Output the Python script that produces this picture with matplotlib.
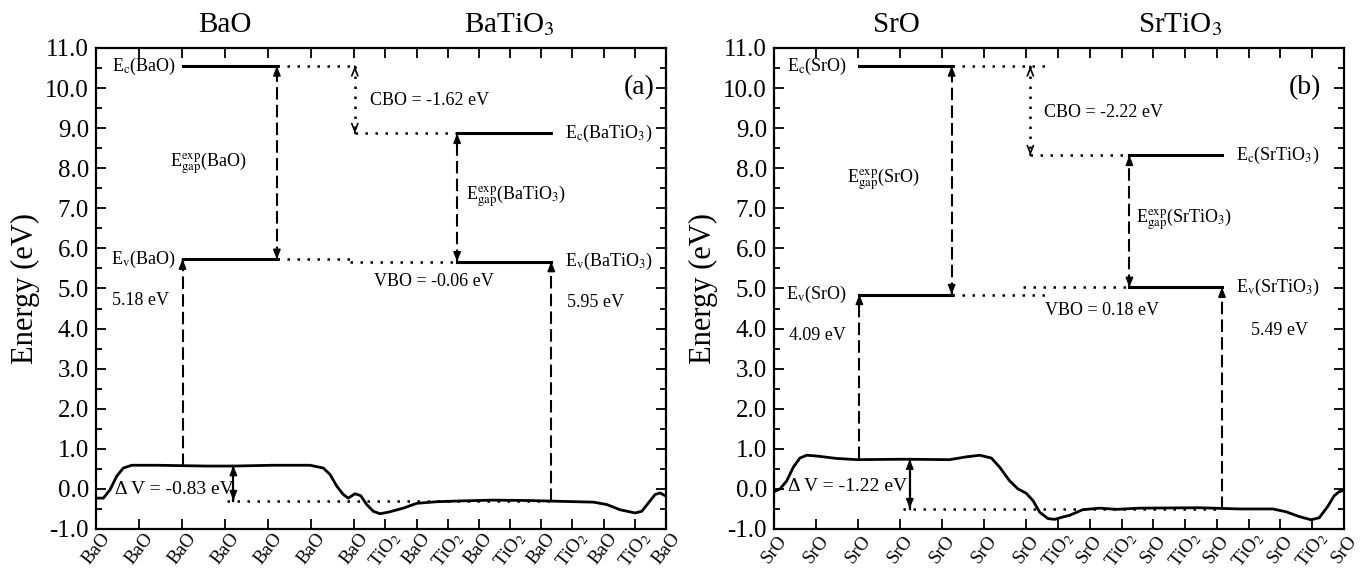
import numpy as np
import matplotlib.pyplot as plt
from matplotlib.ticker import MultipleLocator, FormatStrFormatter

plt.rcParams['font.family'] = 'Liberation Serif'
plt.rcParams['mathtext.fontset'] = 'stix'
plt.rcParams['axes.unicode_minus'] = False

# ---- layer sequence along the superlattice (x axis) ----
layers_a = ['BaO'] * 7 + ['TiO$_2$', 'BaO'] * 5
layers_b = ['SrO'] * 7 + ['TiO$_2$', 'SrO'] * 5
# interlayer spacing (A): rock-salt part, perovskite part
spacing_a = (2.76, 2.00)
spacing_b = (2.58, 1.95)

# ---- macroscopic averaged potential ----
pot_a_x = [0.0, 0.47, 0.90, 1.33, 1.75, 2.29, 3.89, 7.10, 8.81, 11.37, 13.73, 14.58,
           15.01, 15.44, 15.86, 16.18, 16.61, 16.98, 17.36, 17.79, 18.22, 18.75, 19.71,
           20.57, 21.85, 23.35, 25.48, 27.84, 29.76, 31.90, 32.76, 33.61, 34.57, 35.00,
           35.43, 35.86, 36.18, 36.56]
pot_a_y = [-0.23, -0.23, -0.02, 0.32, 0.52, 0.59, 0.59, 0.57, 0.57, 0.59, 0.59, 0.52,
           0.36, 0.07, -0.14, -0.23, -0.12, -0.17, -0.39, -0.56, -0.62, -0.58, -0.48,
           -0.36, -0.32, -0.30, -0.28, -0.29, -0.31, -0.33, -0.39, -0.52, -0.60, -0.56,
           -0.35, -0.14, -0.10, -0.18]

pot_b_x = [0.0, 0.37, 0.78, 1.18, 1.59, 2.00, 2.62, 3.84, 5.07, 7.92, 10.78, 11.81,
           12.62, 13.34, 13.85, 14.46, 14.97, 15.48, 15.89, 16.30, 16.81, 17.22, 17.73,
           18.14, 18.93, 19.98, 21.02, 22.43, 26.10, 28.55, 30.60, 31.42, 32.23, 32.95,
           33.46, 33.96, 34.38, 34.68, 34.98]
pot_b_y = [-0.07, 0.00, 0.20, 0.54, 0.77, 0.84, 0.82, 0.76, 0.73, 0.74, 0.73, 0.80,
           0.84, 0.77, 0.54, 0.20, 0.00, -0.11, -0.29, -0.58, -0.74, -0.76, -0.70,
           -0.66, -0.52, -0.48, -0.51, -0.48, -0.47, -0.50, -0.50, -0.57, -0.69, -0.77,
           -0.72, -0.45, -0.17, -0.07, -0.04]

# ---- band edges (eV): [oxide, perovskite] ----
ec_a = [10.55, 8.87]
ev_a = [5.73, 5.67]
ec_b = [10.55, 8.32]
ev_b = [4.85, 5.03]
# averaged potential plateaus used for the lineup
vbar_a = [0.58, -0.29]
vbar_b = [0.74, -0.49]

# ---- text ----
names_a = ['BaO', 'BaTiO$_3$']
names_b = ['SrO', 'SrTiO$_3$']
cbo_a, vbo_a, dv_a = '-1.62', '-0.06', '-0.83'
cbo_b, vbo_b, dv_b = '-2.22', '0.18', '-1.22'
evbar_a = ['5.18 eV', '5.95 eV']
evbar_b = ['4.09 eV', '5.49 eV']


def layer_pos(labels, d_rs, d_p, n_rs=7):
    pos = [i * d_rs for i in range(n_rs)]
    for k in range(1, len(labels) - n_rs + 1):
        pos.append((n_rs - 1) * d_rs + k * d_p)
    return pos


DASH = dict(lw=1.5, ls=(0, (6, 2.5)))
DOT = dict(lw=1.8, ls=(0, (1, 3)))


def varrow(ax, x, y_from, y_to, style, both=False, head='-|>'):
    ax.plot([x, x], [y_from, y_to], color='k', **style)
    ends = [(y_to, y_from)] + ([(y_from, y_to)] if both else [])
    for tip, tail in ends:
        d = 0.02 * np.sign(tip - tail)
        ax.annotate('', xy=(x, tip), xytext=(x, tip - d),
                    arrowprops=dict(arrowstyle=f'{head},head_length=0.55,head_width=0.22',
                                    color='k', lw=1.2, shrinkA=0, shrinkB=0))


def hdot(ax, x0, x1, y):
    ax.plot([x0, x1], [y, y], color='k', **DOT)


def draw_panel(ax, layers, spacing, px, py, ec, ev, vbar, names, cbo, vbo, dv, evbar,
               xs, tag):
    pos = layer_pos(layers, *spacing)
    ax.plot(px, py, color='k', lw=2.0, solid_joinstyle='round')

    x_ev1, x_gap1, x_cbo = xs['ev1'], xs['gap1'], xs['cbo']
    x_gap2, x_ev2, x_dv = xs['gap2'], xs['ev2'], xs['dv']

    # band edges
    ax.plot([x_ev1, x_gap1], [ec[0], ec[0]], color='k', lw=2.2)
    ax.plot([x_ev1, x_gap1], [ev[0], ev[0]], color='k', lw=2.2)
    ax.plot([x_gap2, x_ev2], [ec[1], ec[1]], color='k', lw=2.2)
    ax.plot([x_gap2, x_ev2], [ev[1], ev[1]], color='k', lw=2.2)

    # band offsets
    hdot(ax, x_gap1, xs['ec_dot_end'], ec[0])
    hdot(ax, x_cbo, x_gap2, ec[1])
    hdot(ax, x_gap1, xs['ev_dot_end'], ev[0])
    hdot(ax, xs['ev_dot_start'], x_gap2, ev[1])
    varrow(ax, x_cbo, ec[0], ec[1], DOT, both=True, head='->')

    # gaps
    varrow(ax, x_gap1, ev[0], ec[0], DASH, both=True)
    varrow(ax, x_gap2, ev[1], ec[1], DASH, both=True)

    # Ev - Vbar
    varrow(ax, x_ev1, vbar[0], ev[0], DASH)
    varrow(ax, x_ev2, vbar[1], ev[1], DASH)

    # Delta V
    hdot(ax, xs['dv_dot_start'], x_ev2, vbar[1])
    varrow(ax, x_dv, vbar[1], vbar[0], dict(lw=1.6, ls='-'), both=True)

    pv = names[1]
    fs = 13
    ax.text(xs['lab_l'], ec[0], f'E$_\\mathrm{{c}}$({names[0]})', ha='right', va='center', fontsize=fs)
    ax.text(xs['lab_l'], ev[0], f'E$_\\mathrm{{v}}$({names[0]})', ha='right', va='center', fontsize=fs)
    ax.text(xs['lab_r'], ec[1], f'E$_\\mathrm{{c}}$({pv})', ha='left', va='center', fontsize=fs)
    ax.text(xs['lab_r'], ev[1], f'E$_\\mathrm{{v}}$({pv})', ha='left', va='center', fontsize=fs)
    ax.text(xs['gl1'], xs['gl1_y'], f'E$_\\mathrm{{gap}}^\\mathrm{{exp}}$({names[0]})', ha='left', va='center', fontsize=fs)
    ax.text(xs['gl2'], xs['gl2_y'], f'E$_\\mathrm{{gap}}^\\mathrm{{exp}}$({pv})', ha='left', va='center', fontsize=fs)
    ax.text(xs['cbo_t'], xs['cbo_y'], f'CBO = {cbo} eV', ha='left', va='center', fontsize=fs)
    ax.text(xs['vbo_t'], xs['vbo_y'], f'VBO = {vbo} eV', ha='left', va='center', fontsize=fs)
    ax.text(xs['e1_t'], xs['e1_y'], evbar[0], ha='left', va='center', fontsize=fs)
    ax.text(xs['e2_t'], xs['e2_y'], evbar[1], ha='left', va='center', fontsize=fs)
    ax.text(xs['dv_t'], xs['dv_y'], f'Δ V = {dv} eV', ha='left', va='center', fontsize=fs + 1)
    ax.text(xs['tag_x'], 10.0, tag, ha='center', va='center', fontsize=20)

    for xn, nm in zip(xs['names_x'], names):
        ax.text(xn, 1.033, nm, transform=ax.get_xaxis_transform(), ha='center',
                va='baseline', fontsize=21)

    ax.set_xlim(pos[0], pos[-1])
    ax.set_ylim(-1, 11)
    ax.set_xticks(pos, layers)
    for lab in ax.get_xticklabels():
        lab.set_rotation(52)
        lab.set_rotation_mode('anchor')
        lab.set_ha('center')
        lab.set_va('center')
        lab.set_fontsize(13.5)
    ax.set_yticks(np.arange(-1, 11.5, 1.0))
    ax.yaxis.set_minor_locator(MultipleLocator(0.5))
    ax.yaxis.set_major_formatter(FormatStrFormatter('%.1f'))
    ax.tick_params(axis='both', which='both', direction='in', top=True, right=True, width=1.3)
    ax.tick_params(axis='both', which='major', length=7)
    ax.tick_params(axis='both', which='minor', length=4)
    ax.tick_params(axis='y', labelsize=18, pad=5)
    ax.tick_params(axis='x', pad=14.5)
    for s in ax.spines.values():
        s.set_linewidth(1.6)
    ax.set_ylabel('Energy (eV)', fontsize=22, labelpad=4)


fig = plt.figure(figsize=(13.62, 5.72), dpi=100)
ax_a = fig.add_axes([0.0705, 0.0752, 0.4185, 0.8409])
ax_b = fig.add_axes([0.5683, 0.0752, 0.4185, 0.8409])

xs_a = dict(ev1=5.55, gap1=11.6, cbo=16.6, gap2=23.16, ev2=29.2, dv=8.81,
            ec_dot_end=16.6, ev_dot_end=16.4, ev_dot_start=16.3, dv_dot_start=8.38,
            lab_l=5.1, lab_r=30.1, gl1=4.75, gl1_y=8.1, gl2=23.7, gl2_y=7.28,
            cbo_t=17.6, cbo_y=9.7, vbo_t=17.8, vbo_y=5.18, e1_t=1.03, e1_y=4.7,
            e2_t=30.2, e2_y=4.66, dv_t=1.22, dv_y=-0.02, tag_x=34.83,
            names_x=[8.27, 26.5])
xs_b = dict(ev1=5.24, gap1=10.9, cbo=15.73, gap2=21.81, ev2=27.49, dv=8.33,
            ec_dot_end=16.6, ev_dot_end=16.6, ev_dot_start=15.29, dv_dot_start=7.92,
            lab_l=4.47, lab_r=28.34, gl1=4.47, gl1_y=7.7, gl2=22.2, gl2_y=6.7,
            cbo_t=16.54, cbo_y=9.4, vbo_t=16.6, vbo_y=4.44, e1_t=0.9, e1_y=3.83,
            e2_t=29.27, e2_y=3.96, dv_t=0.86, dv_y=0.06, tag_x=32.6,
            names_x=[7.54, 24.9])

draw_panel(ax_a, layers_a, spacing_a, pot_a_x, pot_a_y, ec_a, ev_a, vbar_a, names_a,
           cbo_a, vbo_a, dv_a, evbar_a, xs_a, '(a)')
draw_panel(ax_b, layers_b, spacing_b, pot_b_x, pot_b_y, ec_b, ev_b, vbar_b, names_b,
           cbo_b, vbo_b, dv_b, evbar_b, xs_b, '(b)')

fig.savefig('out.png', dpi=100)
